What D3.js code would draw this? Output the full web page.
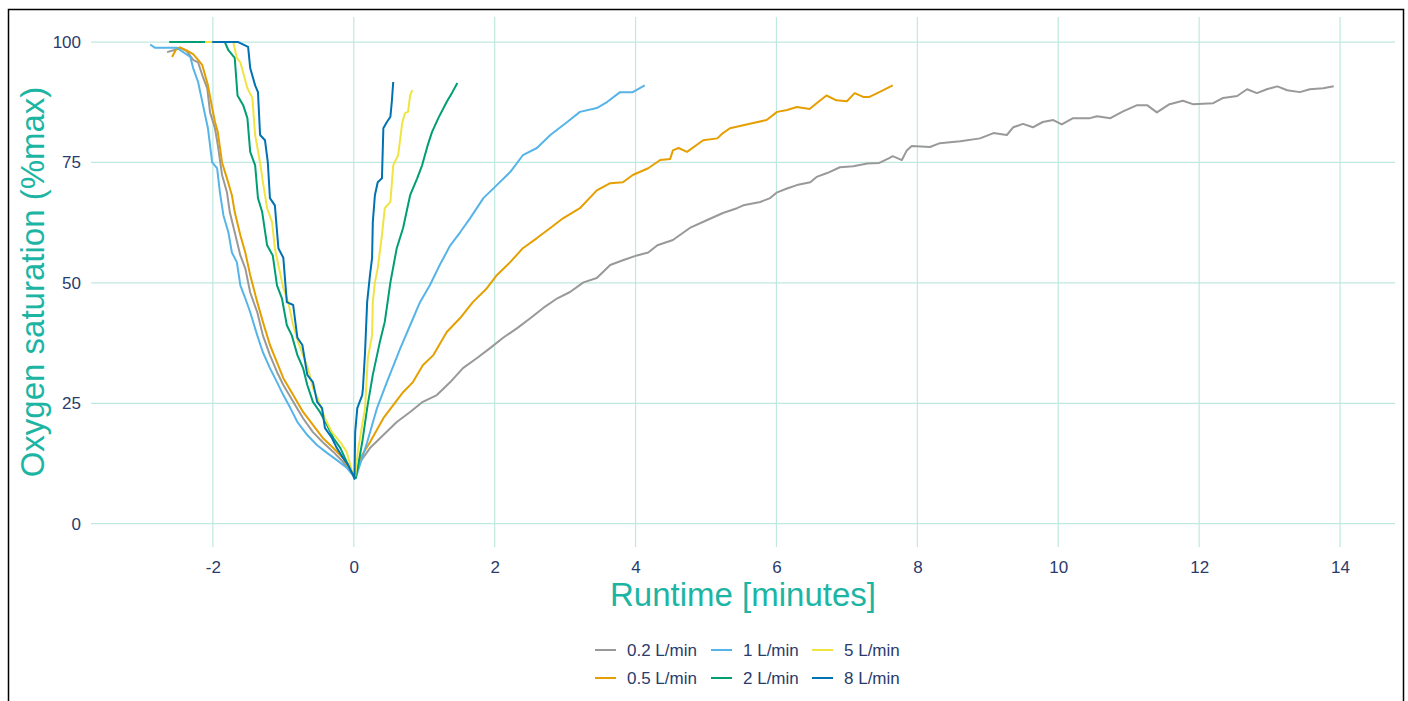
<!DOCTYPE html>
<html>
<head>
<meta charset="utf-8">
<script src="https://cdn.jsdelivr.net/npm/d3@7"></script>
<style>
  body { margin: 0; background: #fff; }
  svg { display: block; font-family: "Liberation Sans", Arial, sans-serif; }
</style>
</head>
<body>
<svg id="chart" width="1408" height="701"></svg>
<script>
// flow rates in legend order (ggplot draws groups in this order)
const flowLabels = ['0.2 L/min', '0.5 L/min', '1 L/min', '2 L/min', '5 L/min', '8 L/min']
const flowColors = ['#999999', '#E69F00', '#56B4E9', '#009E73', '#F0E442', '#0072B2']

const xTicks = [-2, 0, 2, 4, 6, 8, 10, 12, 14]
const yTicks = [0, 25, 50, 75, 100]

// runtime [min] and oxygen saturation [%max]
const t02 = [-2.65, -2.56, -2.46, -2.37, -2.28, -2.21, -2.15, -2.08, -2.04, -1.97, -1.93, -1.87, -1.80, -1.76, -1.69, -1.61, -1.54, -1.47, -1.37, -1.29, -1.19, -1.09, -1.00, -0.86, -0.72, -0.58, -0.44, -0.29, -0.15, -0.01,
  0.02, 0.09, 0.23, 0.42, 0.61, 0.80, 0.98, 1.18, 1.37, 1.55, 1.75, 1.93, 2.12, 2.32, 2.51, 2.69, 2.89, 3.07, 3.26, 3.45, 3.64, 3.82, 4.02, 4.18, 4.31, 4.53, 4.77, 5.01, 5.24, 5.44, 5.53, 5.77, 5.91, 6.01, 6.15, 6.29, 6.48, 6.57, 6.72, 6.90, 7.09, 7.29, 7.46, 7.60, 7.65, 7.78, 7.85, 7.92, 8.18, 8.32, 8.61, 8.89, 9.08, 9.27, 9.36, 9.50, 9.64, 9.78, 9.93, 10.05, 10.21, 10.45, 10.55, 10.74, 10.92, 11.12, 11.26, 11.40, 11.58, 11.77, 11.91, 12.20, 12.34, 12.54, 12.68, 12.82, 12.96, 13.11, 13.25, 13.43, 13.57, 13.76, 13.91]
const v02 = [97.9, 98.3, 98.8, 98.1, 96.3, 95.8, 93.1, 90.4, 85.4, 82.1, 78.6, 72.4, 68.8, 64.7, 60.5, 55.7, 53.0, 48.0, 43.9, 39.1, 35.0, 31.5, 28.8, 25.3, 21.9, 19.0, 16.9, 14.9, 12.8, 10.0,
  9.6, 12.8, 15.7, 18.4, 21.1, 23.2, 25.3, 26.7, 29.4, 32.3, 34.4, 36.4, 38.6, 40.6, 42.7, 44.8, 46.8, 48.1, 50.1, 51.0, 53.7, 54.7, 55.7, 56.3, 57.8, 58.9, 61.4, 63.0, 64.5, 65.5, 66.1, 66.8, 67.6, 68.8, 69.6, 70.3, 70.9, 72.0, 72.8, 74.0, 74.2, 74.8, 74.9, 75.9, 76.3, 75.5, 77.5, 78.4, 78.2, 79.0, 79.4, 80.0, 81.1, 80.7, 82.3, 83.0, 82.3, 83.4, 83.8, 82.9, 84.2, 84.2, 84.6, 84.2, 85.6, 86.9, 86.9, 85.4, 87.1, 87.8, 87.1, 87.3, 88.4, 88.8, 90.2, 89.4, 90.2, 90.8, 90.0, 89.6, 90.2, 90.4, 90.8]

const t05 = [-2.58, -2.52, -2.47, -2.38, -2.28, -2.21, -2.15, -2.07, -2.01, -1.97, -1.93, -1.87, -1.80, -1.73, -1.69, -1.61, -1.54, -1.47, -1.37, -1.29, -1.19, -1.09, -1.00, -0.86, -0.72, -0.58, -0.44, -0.29, -0.15, -0.01,
  0.02, 0.09, 0.23, 0.42, 0.56, 0.70, 0.84, 0.98, 1.13, 1.32, 1.51, 1.69, 1.89, 2.03, 2.22, 2.40, 2.60, 2.79, 2.97, 3.21, 3.45, 3.64, 3.82, 3.96, 4.18, 4.35, 4.49, 4.53, 4.61, 4.73, 4.96, 5.16, 5.24, 5.34, 5.67, 5.86, 6.01, 6.15, 6.29, 6.47, 6.57, 6.71, 6.85, 7.00, 7.11, 7.23, 7.32, 7.46, 7.65]
const v05 = [96.9, 98.5, 98.9, 98.3, 97.5, 96.3, 95.2, 91.0, 86.3, 83.4, 81.3, 75.0, 71.7, 68.2, 64.7, 59.9, 56.3, 51.6, 46.0, 41.9, 37.1, 33.5, 30.2, 26.7, 23.2, 20.5, 17.8, 15.7, 13.6, 10.2,
  10.0, 13.6, 16.9, 21.9, 24.6, 27.3, 29.4, 32.9, 35.0, 39.8, 42.7, 46.0, 48.9, 51.6, 54.3, 57.2, 59.3, 61.4, 63.4, 65.5, 69.2, 70.7, 70.9, 72.4, 73.8, 75.5, 75.7, 77.5, 78.0, 77.2, 79.6, 80.0, 81.1, 82.1, 83.2, 83.8, 85.5, 85.9, 86.5, 86.1, 87.3, 88.9, 87.9, 87.7, 89.4, 88.6, 88.6, 89.6, 91.0]

const t1 = [-2.89, -2.82, -2.51, -2.32, -2.28, -2.21, -2.15, -2.11, -2.07, -2.01, -1.94, -1.90, -1.85, -1.78, -1.73, -1.66, -1.61, -1.54, -1.47, -1.37, -1.29, -1.19, -1.09, -1.00, -0.90, -0.80, -0.66, -0.52, -0.38, -0.24, -0.10, -0.01,
  0.03, 0.19, 0.33, 0.47, 0.66, 0.80, 0.94, 1.08, 1.22, 1.37, 1.51, 1.65, 1.84, 2.03, 2.22, 2.40, 2.60, 2.79, 3.03, 3.21, 3.45, 3.60, 3.78, 3.96, 4.13]
const v1 = [99.5, 98.8, 98.8, 96.9, 94.6, 91.7, 87.6, 84.8, 82.1, 75.0, 73.8, 68.8, 64.0, 60.5, 56.3, 54.3, 49.5, 46.8, 43.9, 39.1, 35.6, 32.3, 29.4, 26.7, 24.0, 21.1, 18.4, 16.3, 14.7, 13.2, 11.6, 10.1,
  9.6, 16.9, 24.0, 29.4, 36.4, 41.2, 46.0, 49.5, 53.7, 57.8, 60.5, 63.4, 67.6, 70.3, 73.0, 76.5, 78.0, 80.7, 83.4, 85.5, 86.3, 87.6, 89.6, 89.6, 91.0]

const t2 = [-2.62, -1.83, -1.78, -1.69, -1.65, -1.57, -1.51, -1.47, -1.40, -1.36, -1.30, -1.23, -1.15, -1.09, -1.02, -0.95, -0.88, -0.80, -0.72, -0.66, -0.58, -0.48, -0.38, -0.29, -0.19, -0.10, -0.01,
  0.03, 0.12, 0.19, 0.27, 0.37, 0.44, 0.52, 0.61, 0.70, 0.80, 0.90, 0.97, 1.05, 1.11, 1.20, 1.32, 1.40, 1.47]
const v2 = [100, 100, 98.3, 96.7, 88.9, 86.9, 84.2, 77.2, 74.4, 67.6, 64.7, 57.8, 55.7, 49.5, 46.8, 41.2, 39.1, 35.0, 32.3, 28.8, 25.3, 23.2, 20.5, 17.8, 15.7, 12.8, 10.1,
  9.5, 16.9, 24.0, 30.9, 37.7, 41.9, 50.1, 57.2, 61.4, 68.2, 71.7, 74.4, 78.6, 81.3, 84.2, 87.6, 89.6, 91.5]

const t5 = [-2.11, -1.71, -1.66, -1.61, -1.51, -1.44, -1.40, -1.33, -1.29, -1.23, -1.16, -1.12, -1.05, -1.00, -0.93, -0.86, -0.79, -0.72, -0.65, -0.58, -0.51, -0.41, -0.31, -0.19, -0.10, -0.05, -0.01,
  0.02, 0.06, 0.16, 0.20, 0.26, 0.27, 0.30, 0.34, 0.40, 0.44, 0.52, 0.56, 0.63, 0.69, 0.73, 0.77, 0.80, 0.83]
const v5 = [100, 100, 96.7, 95.8, 90.4, 88.4, 80.7, 75.0, 70.9, 65.5, 62.6, 57.2, 52.3, 48.9, 46.0, 41.2, 37.7, 35.0, 32.3, 28.1, 26.0, 21.9, 19.0, 16.9, 14.9, 12.2, 10.0,
  9.9, 15.3, 24.0, 34.4, 39.1, 46.0, 50.1, 53.0, 59.9, 65.5, 66.8, 74.4, 76.5, 83.4, 85.3, 85.5, 88.9, 90.0]

const t8 = [-2.01, -1.64, -1.50, -1.47, -1.40, -1.36, -1.33, -1.26, -1.22, -1.19, -1.12, -1.07, -1.00, -0.95, -0.86, -0.80, -0.73, -0.66, -0.58, -0.52, -0.45, -0.41, -0.31, -0.24, -0.15, -0.08, -0.01,
  0.01, 0.02, 0.05, 0.12, 0.13, 0.16, 0.19, 0.23, 0.26, 0.27, 0.30, 0.34, 0.40, 0.42, 0.47, 0.52, 0.54, 0.56]
const v8 = [100, 100, 99.0, 94.6, 91.0, 89.6, 80.7, 79.6, 75.0, 67.6, 66.1, 57.2, 55.2, 46.0, 45.4, 38.6, 37.1, 30.9, 29.4, 25.3, 24.0, 19.9, 17.8, 15.7, 13.6, 12.2, 10.1,
  9.3, 19.0, 24.0, 26.7, 28.1, 35.6, 46.0, 51.6, 55.2, 62.6, 68.2, 70.9, 71.7, 82.1, 83.4, 84.5, 87.6, 91.7]

const seriesT = [t02, t05, t1, t2, t5, t8]
const seriesV = [v02, v05, v1, v2, v5, v8]

const margin = { left: 91, right: 13, top: 17, bottom: 154 }
const width = 1408
const height = 701

const GRID = '#bfe8df'
const TICK_TEXT = '#2b3b6b'
const TITLE = '#1cb5a3'
const SMALL = '17px'
const BIG = '33px'

const svg = d3.select('#chart')

const x = d3.scaleLinear()
  .domain([-3.73, 14.78])
  .range([margin.left, width - margin.right])

const y = d3.scaleLinear()
  .domain([-4.84, 105.2])
  .range([height - margin.bottom, margin.top])

// outer frame
svg.append('rect')
  .attr('x', 8.5)
  .attr('y', 9.5)
  .attr('width', 1395)
  .attr('height', 710)
  .attr('fill', 'none')
  .attr('stroke', '#000')
  .attr('stroke-width', 1.5)

// grid
const grid = svg.append('g').attr('class', 'grid')
grid.selectAll('line.h')
  .data(yTicks)
  .enter().append('line')
    .attr('x1', x.range()[0]).attr('x2', x.range()[1])
    .attr('y1', d => y(d)).attr('y2', d => y(d))
    .attr('stroke', GRID).attr('stroke-width', 1.2)
grid.selectAll('line.v')
  .data(xTicks)
  .enter().append('line')
    .attr('x1', d => x(d)).attr('x2', d => x(d))
    .attr('y1', y.range()[1]).attr('y2', y.range()[0])
    .attr('stroke', GRID).attr('stroke-width', 1.2)

// axes, text only (ggplot minimal look), plain hyphen for negatives
const xAxis = svg.append('g')
  .attr('transform', `translate(0, ${height - margin.bottom})`)
  .call(d3.axisBottom(x).tickValues(xTicks).tickFormat(d => String(d)).tickSize(0).tickPadding(14))
xAxis.select('.domain').remove()
xAxis.selectAll('text')
  .attr('fill', TICK_TEXT)
  .style('font-size', SMALL)
  .style('font-family', '"Liberation Sans", Arial, sans-serif')

const yAxis = svg.append('g')
  .attr('transform', `translate(${margin.left}, 0)`)
  .call(d3.axisLeft(y).tickValues(yTicks).tickFormat(d => String(d)).tickSize(0).tickPadding(10))
yAxis.select('.domain').remove()
yAxis.selectAll('text')
  .attr('fill', TICK_TEXT)
  .style('font-size', SMALL)
  .style('font-family', '"Liberation Sans", Arial, sans-serif')

// axis titles
svg.append('text')
  .attr('x', (x.range()[0] + x.range()[1]) / 2)
  .attr('y', 606)
  .attr('text-anchor', 'middle')
  .attr('fill', TITLE)
  .style('font-size', BIG)
  .text('Runtime [minutes]')

svg.append('text')
  .attr('transform', `translate(44, ${(y.range()[0] + y.range()[1]) / 2}) rotate(-90)`)
  .attr('text-anchor', 'middle')
  .attr('fill', TITLE)
  .style('font-size', BIG)
  .text('Oxygen saturation (%max)')

// lines
const line = d3.line()
  .x(d => x(d[0]))
  .y(d => y(d[1]))

const plot = svg.append('g').attr('class', 'lines')
flowLabels.forEach((label, i) => {
  const pts = seriesT[i].map((t, j) => [t, seriesV[i][j]])
  plot.append('path')
    .datum(pts)
    .attr('d', line)
    .attr('fill', 'none')
    .attr('stroke', flowColors[i])
    .attr('stroke-width', 2)
    .attr('stroke-linejoin', 'round')
})

// legend: 3 columns, 2 rows, filled by column
const legendCols = [595, 711, 812]
const legendRows = [650, 678]
const legend = svg.append('g').attr('class', 'legend')
flowLabels.forEach((label, i) => {
  const col = Math.floor(i / 2)
  const row = i % 2
  const lx = legendCols[col]
  const ly = legendRows[row]
  legend.append('line')
    .attr('x1', lx).attr('x2', lx + 21)
    .attr('y1', ly).attr('y2', ly)
    .attr('stroke', flowColors[i])
    .attr('stroke-width', 2)
  legend.append('text')
    .attr('x', lx + 32)
    .attr('y', ly)
    .attr('dy', '0.35em')
    .attr('fill', TICK_TEXT)
    .style('font-size', SMALL)
    .text(label)
})
</script>
</body>
</html>
